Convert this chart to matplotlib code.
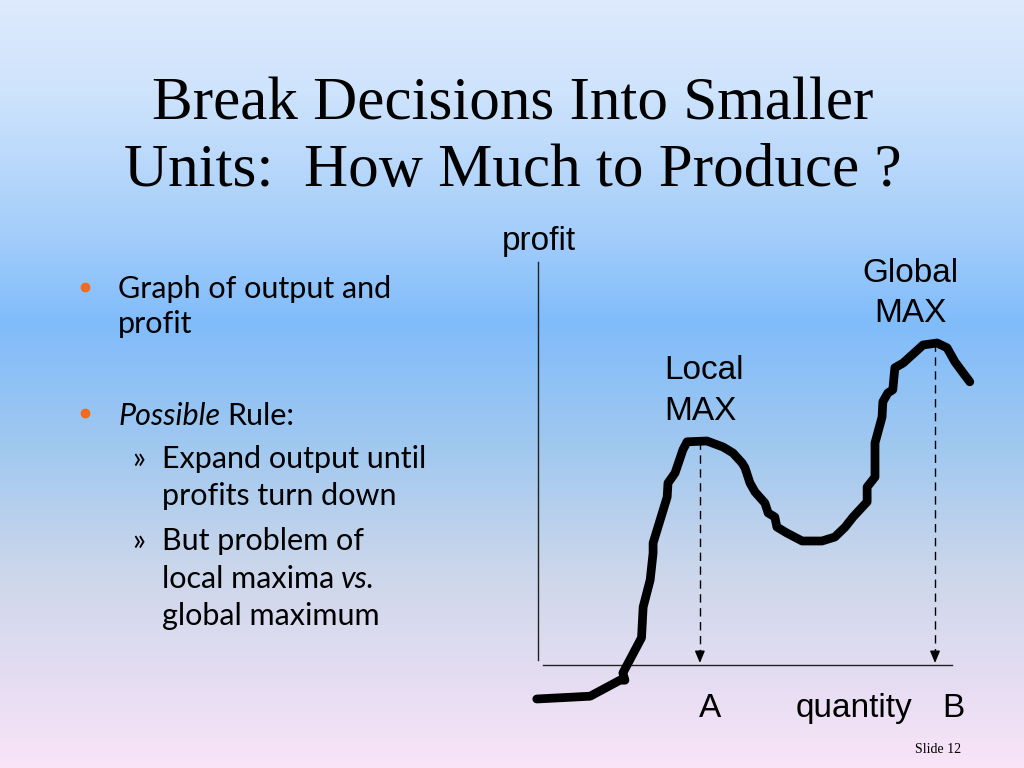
import numpy as np
import matplotlib
matplotlib.use('Agg')
import matplotlib.pyplot as plt

# profit curve (quantity, profit)
quantity = [-0.03, 1.26, 1.98, 2.10, 2.05, 2.50, 2.54, 2.71, 2.78, 2.78, 3.12, 3.14,
            3.31, 3.50, 3.60, 4.08, 4.47, 4.71, 4.93, 5.00, 5.12, 5.24, 5.48, 5.56,
            5.72, 5.77, 6.01, 6.38, 6.86, 7.17, 7.42, 7.61, 7.95, 7.95, 8.14, 8.14,
            8.31, 8.33, 8.45, 8.57, 8.62, 8.82, 9.30, 9.64, 9.88, 10.07, 10.27, 10.43]
profit = [-0.90, -0.83, -0.43, -0.43, -0.25, 0.63, 1.40, 2.08, 2.75, 3.00, 4.15, 4.50,
          4.75, 5.33, 5.53, 5.55, 5.40, 5.25, 5.00, 4.88, 4.50, 4.28, 4.00, 3.75,
          3.65, 3.40, 3.25, 3.05, 3.05, 3.15, 3.40, 3.65, 4.03, 4.40, 4.65, 5.50,
          6.15, 6.53, 6.75, 6.83, 7.38, 7.50, 7.95, 8.00, 7.88, 7.53, 7.25, 7.03]

# local and global maximum markers
max_names = ['A', 'B']
max_quantity = [3.91, 9.59]
max_profit = [5.55, 8.0]

title_lines = ['Break Decisions Into Smaller', 'Units:  How Much to Produce ?']

# background gradient stops (fraction from top, rgb)
grad_pos = [0.0, 0.12, 0.30, 0.42, 0.58, 0.75, 0.90, 1.0]
grad_rgb = [(222, 234, 252), (206, 227, 252), (165, 206, 250), (128, 188, 250),
            (160, 200, 240), (205, 215, 235), (232, 222, 243), (250, 228, 248)]

W, H = 1024, 768
fig = plt.figure(figsize=(W / 100, H / 100), dpi=100)
renderer = fig.canvas.get_renderer()

# full-slide axes in pixel units for background and text
bg = fig.add_axes([0, 0, 1, 1])
bg.set_xlim(0, W)
bg.set_ylim(H, 0)
bg.axis('off')

ys = np.linspace(0, 1, H)
rgb = np.array(grad_rgb) / 255.0
grad = np.stack([np.interp(ys, grad_pos, rgb[:, i]) for i in range(3)], axis=-1)
bg.imshow(grad[:, None, :], extent=[0, W, H, 0], aspect='auto', zorder=0)


def after(t, gap):
    # x pixel just right of a drawn text
    bb = t.get_window_extent(renderer)
    return bb.x1 + gap


# title
serif = 'Liberation Serif'
bg.text(513, 119, title_lines[0], ha='center', va='baseline', fontsize=44,
        family=serif, color='black')
bg.text(513, 186, title_lines[1], ha='center', va='baseline', fontsize=44,
        family=serif, color='black')

# bullets
sans = 'Lato'
orange = '#f26a1b'
fs = 22
bg.plot([85, 85], [287, 413], 'o', color=orange, markersize=6, zorder=3)
bg.text(118, 298, 'Graph of output and', fontsize=fs, family=sans, va='baseline')
bg.text(118, 333, 'profit', fontsize=fs, family=sans, va='baseline')
t = bg.text(118, 425, 'Possible', fontsize=fs, family=sans, style='italic',
            va='baseline')
bg.text(after(t, 7), 425, 'Rule:', fontsize=fs, family=sans, va='baseline')
sub = [('\u00bb', 'Expand output until', 468), (None, 'profits turn down', 505),
       ('\u00bb', 'But problem of', 550), (None, 'local maxima', 588),
       (None, 'global maximum', 625)]
for mark, txt, y in sub:
    if mark:
        bg.text(132, y, mark, fontsize=fs, family=sans, va='baseline')
    t = bg.text(162, y, txt, fontsize=fs, family=sans, va='baseline')
    if txt == 'local maxima':
        bg.text(after(t, 7), y, 'vs.', fontsize=fs, family=sans, style='italic',
                va='baseline')

# chart labels
arial = 'Liberation Sans'
cfs = 24
bg.text(539, 250, 'profit', fontsize=cfs, family=arial, ha='center', va='baseline')
bg.text(910, 282, 'Global', fontsize=cfs, family=arial, ha='center', va='baseline')
bg.text(910, 322, 'MAX', fontsize=cfs, family=arial, ha='center', va='baseline')
bg.text(664, 379, 'Local', fontsize=cfs, family=arial, ha='left', va='baseline')
bg.text(664, 420, 'MAX', fontsize=cfs, family=arial, ha='left', va='baseline')
bg.text(710, 717, max_names[0], fontsize=cfs, family=arial, ha='center',
        va='baseline')
bg.text(854, 717, 'quantity', fontsize=cfs, family=arial, ha='center', va='baseline')
bg.text(953, 717, max_names[1], fontsize=cfs, family=arial, ha='center',
        va='baseline')

bg.text(915, 753, 'Slide 12', fontsize=10, family=serif, va='baseline')

# chart axes
ax = fig.add_axes([520 / W, (H - 720) / H, 470 / W, 500 / H])
ax.patch.set_alpha(0)
ax.set_xlim(-0.435, 10.918)
ax.set_ylim(-1.425, 11.075)
ax.axis('off')

ax.plot([0, 0], [0.08, 10.03], color='#222222', lw=1)
ax.plot([0.12, 10.0], [-0.05, -0.05], color='#222222', lw=1)

for q, p in zip(max_quantity, max_profit):
    # dashed drop line
    ax.plot([q, q], [p, 0.25], color='black', lw=1, linestyle=(0, (6, 4)))
    ax.annotate('', xy=(q, 0.0), xytext=(q, 0.3),
                arrowprops=dict(arrowstyle='-|>,head_length=0.6,head_width=0.25',
                                color='black', lw=1, mutation_scale=12,
                                shrinkA=0, shrinkB=0))

ax.plot(quantity, profit, color='black', lw=6.3, solid_joinstyle='round',
        solid_capstyle='round')

fig.savefig('out.png', dpi=100)
